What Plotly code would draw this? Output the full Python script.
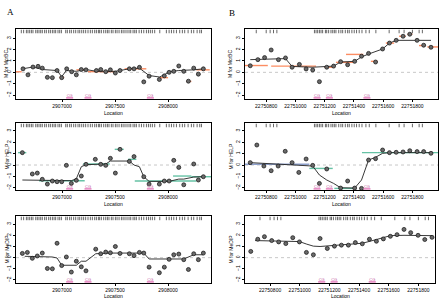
import plotly.graph_objects as go

# ---------------- data ----------------
# Column A (locations ~2.907e6)
A_x = [2906632, 2906679, 2906726, 2906774, 2906814, 2906862, 2906909, 2906953, 2906997, 2907044,
       2907091, 2907135, 2907182, 2907226, 2907324, 2907365, 2907412, 2907456, 2907503, 2907547,
       2907635, 2907679, 2907730, 2907771, 2907821, 2907918, 2907965, 2908010, 2908054, 2908101,
       2908148, 2908192, 2908242, 2908286, 2908333]
mcrbc_A = [0.31, -0.22, 0.47, 0.53, 0.37, -0.44, -0.47, 0.16, -0.47, 0.31,
           0.06, -0.22, 0.25, 0.22, 0.16, 0.25, 0.06, 0.22, -0.06, 0.16,
           0.31, 0.31, 0.44, -0.84, -0.34, -0.63, -0.31, 0.0, 0.09, 0.56,
           0.09, -0.78, 0.37, -0.16, 0.31]

helpA_x = [2906626, 2906720, 2906767, 2906814, 2906862, 2906909, 2906953, 2906997, 2907041, 2907088,
           2907135, 2907182, 2907226, 2907314, 2907365, 2907412, 2907456, 2907503, 2907547, 2907635,
           2907679, 2907771, 2907821, 2907918, 2907965, 2908010, 2908054, 2908101, 2908148, 2908242,
           2908286, 2908333]
help_A = [1.09, -0.79, -0.71, -1.26, -1.68, -1.41, -1.47, -1.47, -0.03, -1.62,
          -1.35, -0.97, 0.06, 0.50, 0.06, -0.03, 0.59, -0.71, 1.38, 0.32,
          0.74, -1.03, -1.68, -1.68, -1.41, -1.41, 0.41, -0.21, -1.74, 0.09,
          -1.32, -1.03]

medipA_x = [2906626, 2906673, 2906720, 2906767, 2906814, 2906862, 2906909, 2906953, 2906997, 2907041,
            2907088, 2907135, 2907182, 2907226, 2907318, 2907365, 2907412, 2907456, 2907503, 2907547,
            2907635, 2907679, 2907730, 2907771, 2907821, 2907918, 2907965, 2908010, 2908054, 2908101,
            2908148, 2908192, 2908242, 2908286, 2908333]
medip_A = [0.38, 0.47, -0.06, 0.15, 0.41, -0.97, -1.00, 1.29, -0.71, 0.06,
           -1.29, -0.32, -0.82, -1.18, 0.76, 0.35, 0.50, 0.44, 1.00, 0.38,
           0.35, 0.18, 0.47, 0.41, -0.85, -1.35, -0.85, -0.15, 0.26, 0.32,
           -0.18, -1.06, 0.35, -0.18, 0.41]

# smoothed fits, column A
mcrbcA_fit_x = [2906626, 2906726, 2906814, 2906953, 2906997, 2907041, 2907135, 2907226, 2907324, 2907503,
                2907547, 2907635, 2907730, 2907771, 2907821, 2907918, 2907965, 2908010, 2908101, 2908242, 2908333]
mcrbcA_fit_y = [0.31, 0.47, 0.25, 0.16, -0.38, 0.16, 0.09, 0.25, 0.09, 0.09,
                0.16, 0.31, 0.37, 0.06, -0.28, -0.41, -0.22, 0.06, 0.16, 0.22, 0.31]
helpA_fit_x = [2906626, 2907088, 2907135, 2907182, 2907226, 2907365, 2907412, 2907456, 2907635, 2907679,
               2907730, 2907771, 2907821, 2908010, 2908101, 2908148, 2908242, 2908333]
helpA_fit_y = [-1.32, -1.38, -1.21, -0.15, 0.03, 0.03, 0.09, 0.35, 0.35, 0.0,
               -0.15, -1.03, -1.44, -1.44, -1.24, -1.24, -1.06, -1.03]
medipA_fit_x = [2906648, 2906814, 2906909, 2906953, 2906997, 2907135, 2907182, 2907226, 2907318, 2907456,
                2907771, 2907821, 2908148, 2908242, 2908333]
medipA_fit_y = [0.12, 0.12, 0.06, -0.03, -0.68, -0.68, -0.32, -0.32, 0.35, 0.41,
                0.41, -0.12, -0.12, 0.26, 0.26]

# segment means, column A
mcrbcA_seg_x0 = [2906566, 2906975, 2907135, 2907245, 2907590, 2907920, 2908173, 2908267]
mcrbcA_seg_x1 = [2906620, 2907020, 2907245, 2907497, 2907795, 2908000, 2908220, 2908393]
mcrbcA_seg_y = [0.05, -0.45, 0.22, 0.06, 0.31, -0.47, -0.80, 0.22]
helpA_seg_x0 = [2906585, 2906783, 2907198, 2907497, 2907623, 2907686, 2908047, 2908220]
helpA_seg_x1 = [2906663, 2907214, 2907450, 2907582, 2907701, 2908267, 2908220, 2908405]
helpA_seg_y = [1.09, -1.38, 0.09, 1.38, 0.50, -1.41, -0.97, -1.03]

# Column B (locations ~22.75e6)
B_x = [22750691, 22750743, 22750789, 22750834, 22750884, 22750932, 22750977, 22751027, 22751073, 22751118,
       22751164, 22751214, 22751261, 22751309, 22751357, 22751405, 22751452, 22751500, 22751548, 22751596,
       22751643, 22751689, 22751736, 22751782, 22751832, 22751877, 22751927]
mcrbc_B = [0.58, 1.12, 1.30, 1.97, 1.12, 1.27, 0.45, 0.70, 0.30, 0.21,
           -0.82, 0.45, 0.55, 0.94, 0.67, 0.97, 1.42, 1.67, 0.91, 2.06,
           2.58, 2.82, 3.18, 3.36, 2.82, 2.39, 2.21]
helpB_x = [22750691, 22750736, 22750784, 22750834, 22750882, 22750930, 22750977, 22751023, 22751073, 22751118,
           22751164, 22751214, 22751309, 22751357, 22751405, 22751452, 22751500, 22751548, 22751596, 22751643,
           22751689, 22751736, 22751782, 22751832, 22751877, 22751927]
help_B = [0.21, 1.76, -0.09, -0.50, -0.09, 1.21, 0.21, -0.65, 0.53, -0.03,
          -1.62, -0.35, -2.03, -1.41, -2.03, -2.06, 0.44, 0.56, 1.32, 1.09,
          1.12, 1.15, 1.26, 1.18, 1.18, 1.03]
medipB_x = [22750670, 22750717, 22750762, 22750811, 22750858, 22750906, 22750953, 22750998, 22751045, 22751092,
            22751137, 22751186, 22751234, 22751281, 22751328, 22751375, 22751422, 22751470, 22751517, 22751564,
            22751611, 22751656, 22751703, 22751748, 22751798, 22751843, 22751892]
medip_B = [0.56, 1.65, 1.88, 1.53, 1.41, 1.26, 1.79, 1.41, 0.47, 0.26,
           1.71, 0.82, 1.03, 1.12, 1.12, 1.35, 1.24, 1.65, 1.47, 1.68,
           1.91, 2.06, 2.53, 2.24, 2.00, 1.62, 1.82]

mcrbcB_fit_x = [22750691, 22750932, 22750977, 22751118, 22751261, 22751309, 22751405, 22751452, 22751500,
                22751596, 22751643, 22751689, 22751927]
mcrbcB_fit_y = [1.12, 1.21, 0.52, 0.45, 0.55, 0.91, 0.97, 1.36, 1.61, 2.06, 2.58, 2.82, 2.82]
helpB_fit_x = [22750691, 22750834, 22750977, 22751118, 22751164, 22751214, 22751261, 22751309, 22751405,
               22751452, 22751500, 22751548, 22751596, 22751643, 22751927]
helpB_fit_y = [0.21, 0.12, 0.06, -0.09, -0.88, -1.32, -1.62, -2.00, -2.03, -1.32, 0.44, 0.68, 1.03, 1.09, 1.09]
medipB_fit_x = [22750699, 22750998, 22751047, 22751092, 22751137, 22751234, 22751328, 22751422, 22751517,
                22751611, 22751703, 22751892]
medipB_fit_y = [1.53, 1.44, 1.21, 1.03, 1.00, 1.09, 1.18, 1.29, 1.62, 1.97, 2.00, 1.97]

mcrbcB_seg_x0 = [22750655, 22750834, 22751198, 22751277, 22751346, 22751516, 22751618, 22751709, 22751766, 22751845, 22751902]
mcrbcB_seg_x1 = [22750811, 22751141, 22751266, 22751402, 22751464, 22751561, 22751675, 22751755, 22751800, 22751891, 22751975]
mcrbcB_seg_y = [0.60, 0.55, 0.45, 0.88, 1.58, 0.97, 2.58, 3.18, 3.36, 2.36, 2.24]
helpB_seg_x0 = [22751095, 22751266, 22751455]
helpB_seg_x1 = [22751255, 22751414, 22751975]
helpB_seg_y = [-0.30, -2.06, 1.09]
helpB_seg2_x0 = [22750655]
helpB_seg2_x1 = [22751095]
helpB_seg2_y = [0.07]

# probe positions (rug) and CpG sites
rug_A = [2906616, 2906638, 2906664, 2906679, 2906695, 2906711, 2906726, 2906752, 2906767, 2906783,
         2906799, 2906814, 2906836, 2906852, 2906874, 2906890, 2906909, 2906925, 2906940, 2906962,
         2906978, 2906994, 2907035, 2907050, 2907072, 2907088, 2907110, 2907129, 2907151, 2907167,
         2907186, 2907204, 2907223, 2907245, 2907267, 2907286, 2907308, 2907324, 2907343, 2907355,
         2907371, 2907393, 2907412, 2907428, 2907443, 2907465, 2907481, 2907503, 2907519, 2907538,
         2907560, 2907576, 2907594, 2907613, 2907632, 2907648, 2907670, 2907686, 2907701, 2907727,
         2907749, 2907771, 2907796, 2907815, 2907833, 2907852, 2907874, 2907922, 2907984, 2908010,
         2908032, 2908054, 2908079, 2908110, 2908135, 2908157, 2908189, 2908220, 2908242, 2908274,
         2908299, 2908315]
rug_B = [22750732, 22750800, 22750827, 22750850, 22750873, 22751130, 22751141, 22751152, 22751164, 22751175,
         22751186, 22751205, 22751214, 22751227, 22751243, 22751255, 22751266, 22751277, 22751296, 22751311,
         22751323, 22751341, 22751357, 22751368, 22751386, 22751402, 22751418, 22751436, 22751455, 22751482,
         22751505, 22751550, 22751641, 22751709, 22751743, 22751800, 22751846, 22751868]
cg_A = [2907072, 2907245, 2907833]
cg_B = [22751148, 22751232, 22751489]

# ---------------- layout helpers ----------------
W, H = 440, 299
ORANGE = "#fc8d62"
GREEN = "#66c2a5"
LAV = "#8da0cb"
PINK = "#e78ac3"

fig = go.Figure()

def px_x(p):
    return p / W

def px_y(p):
    return 1 - p / H

TV_A = [2907000, 2907500, 2908000]
TV_B = [22750800, 22751000, 22751200, 22751400, 22751600, 22751800]

panels = [
    dict(i=1, dx=(16, 211), dy=(29, 99), yr=(-2.35, 3.82), xr=(2906566, 2908405),
         px=A_x, py=mcrbc_A, fx=mcrbcA_fit_x, fy=mcrbcA_fit_y,
         segs=[(mcrbcA_seg_x0, mcrbcA_seg_x1, mcrbcA_seg_y, ORANGE)], rug=rug_A, cg=cg_A,
         yt="M for McrBC", tv=TV_A, ytx=6, cgw=33, loc=9.5),
    dict(i=2, dx=(245, 438), dy=(29, 99), yr=(-2.35, 3.82), xr=(22750655, 22751975),
         px=B_x, py=mcrbc_B, fx=mcrbcB_fit_x, fy=mcrbcB_fit_y,
         segs=[(mcrbcB_seg_x0, mcrbcB_seg_x1, mcrbcB_seg_y, ORANGE)], rug=rug_B, cg=cg_B,
         yt="M for McrBC", tv=TV_B, ytx=230, cgw=24, loc=9.5),
    dict(i=3, dx=(16, 211), dy=(123, 190), yr=(-2.2, 3.7), xr=(2906566, 2908405),
         px=helpA_x, py=help_A, fx=helpA_fit_x, fy=helpA_fit_y,
         segs=[(helpA_seg_x0, helpA_seg_x1, helpA_seg_y, GREEN)], rug=rug_A, cg=cg_A,
         yt="M for HELP", tv=TV_A, ytx=6, cgw=33, loc=9.5),
    dict(i=4, dx=(245, 438), dy=(123, 190), yr=(-2.2, 3.7), xr=(22750655, 22751975),
         px=helpB_x, py=help_B, fx=helpB_fit_x, fy=helpB_fit_y,
         segs=[(helpB_seg2_x0, helpB_seg2_x1, helpB_seg2_y, LAV),
               (helpB_seg_x0, helpB_seg_x1, helpB_seg_y, GREEN)], rug=rug_B, cg=cg_B,
         yt="M for HELP", tv=TV_B, ytx=230, cgw=24, loc=9.5),
    dict(i=5, dx=(16, 211), dy=(216, 283), yr=(-2.27, 3.73), xr=(2906566, 2908405),
         px=medipA_x, py=medip_A, fx=medipA_fit_x, fy=medipA_fit_y,
         segs=[], rug=rug_A, cg=cg_A,
         yt="M for MeDIP", tv=TV_A, ytx=6, cgw=33, loc=8.5),
    dict(i=6, dx=(245, 435), dy=(216, 283), yr=(-2.27, 3.73), xr=(22750631, 22751912),
         px=medipB_x, py=medip_B, fx=medipB_fit_x, fy=medipB_fit_y,
         segs=[], rug=rug_B, cg=cg_B,
         yt="M for MeDIP", tv=TV_B, ytx=230, cgw=24, loc=8.5),
]

FONT = "Liberation Sans, Arial, sans-serif"
annotations = []
shapes = []

for p in panels:
    i = p["i"]
    xa = "x" if i == 1 else f"x{i}"
    ya = "y" if i == 1 else f"y{i}"
    xl = "xaxis" if i == 1 else f"xaxis{i}"
    yl = "yaxis" if i == 1 else f"yaxis{i}"

    shapes.append(dict(type="line", xref=f"{xa} domain", yref=ya, x0=0, x1=1, y0=0, y1=0,
                       line=dict(color="#b0b0b0", width=0.7, dash="dot"), layer="below"))

    for (x0s, x1s, ys, col) in p["segs"]:
        sx, sy = [], []
        for a, b, v in zip(x0s, x1s, ys):
            sx += [a, b, None]
            sy += [v, v, None]
        fig.add_trace(go.Scatter(x=sx, y=sy, mode="lines", xaxis=xa, yaxis=ya,
                                 line=dict(color=col, width=1.4), showlegend=False, hoverinfo="skip"))

    fig.add_trace(go.Scatter(x=p["fx"], y=p["fy"], mode="lines", xaxis=xa, yaxis=ya,
                             line=dict(color="#222222", width=0.9), showlegend=False))
    fig.add_trace(go.Scatter(x=p["px"], y=p["py"], mode="markers", xaxis=xa, yaxis=ya,
                             marker=dict(size=4, color="#6a6a6a", line=dict(color="#111111", width=0.7)),
                             showlegend=False))
    top = p["yr"][1]
    fig.add_trace(go.Scatter(x=p["rug"], y=[top - 0.22] * len(p["rug"]), mode="markers", xaxis=xa, yaxis=ya,
                             marker=dict(symbol="line-ns", size=2.5, line=dict(color="black", width=0.6)),
                             showlegend=False, hoverinfo="skip"))
    bx, by = [], []
    for c in p["cg"]:
        bx += [c - p["cgw"], c + p["cgw"], None]
        by += [p["yr"][0] + 0.1, p["yr"][0] + 0.1, None]
    fig.add_trace(go.Scatter(x=bx, y=by, mode="lines", xaxis=xa, yaxis=ya,
                             line=dict(color=PINK, width=1.6), showlegend=False, hoverinfo="skip"))
    fig.add_trace(go.Scatter(x=p["cg"], y=[p["yr"][0] + 0.3] * len(p["cg"]), mode="text", text=["CG"] * len(p["cg"]),
                             textfont=dict(size=4, color="#c2569b", family=FONT), xaxis=xa, yaxis=ya,
                             showlegend=False, hoverinfo="skip"))

    fig.layout[xl] = dict(domain=[px_x(p["dx"][0]), px_x(p["dx"][1])], range=list(p["xr"]), anchor=ya,
                          automargin=False,
                          showgrid=False, zeroline=False, showline=True, linecolor="black", linewidth=0.8,
                          mirror=True, ticks="outside", ticklen=2, tickwidth=0.6, tickcolor="black",
                          tickvals=p["tv"], tickformat="d",
                          tickfont=dict(size=5, family=FONT, color="black"))
    fig.layout[yl] = dict(domain=[px_y(p["dy"][1]), px_y(p["dy"][0])], range=list(p["yr"]), anchor=xa,
                          automargin=False,
                          showgrid=False, zeroline=False, showline=True, linecolor="black", linewidth=0.8,
                          mirror=True, ticks="outside", ticklen=2, tickwidth=0.6, tickcolor="black",
                          tickvals=[-2, -1, 0, 1, 2, 3], tickangle=-90,
                          tickfont=dict(size=5, family=FONT, color="black"))

    annotations.append(dict(text=p["yt"], x=px_x(p["ytx"]), y=px_y((p["dy"][0] + p["dy"][1]) / 2),
                            xref="paper", yref="paper", showarrow=False, textangle=-90,
                            font=dict(size=5, family=FONT, color="black"), xanchor="center", yanchor="middle"))
    annotations.append(dict(text="Location", x=px_x((p["dx"][0] + p["dx"][1]) / 2), y=px_y(p["dy"][1] + p["loc"]),
                            xref="paper", yref="paper", showarrow=False, borderpad=0,
                            font=dict(size=5, family=FONT, color="black"), xanchor="center", yanchor="top"))

annotations.append(dict(text="A", x=px_x(4.5), y=px_y(5.5), xref="paper", yref="paper", showarrow=False,
                        font=dict(size=9, family="Liberation Serif, Times New Roman, serif", color="black")))
annotations.append(dict(text="B", x=px_x(232), y=px_y(6.5), xref="paper", yref="paper", showarrow=False,
                        font=dict(size=9, family="Liberation Serif, Times New Roman, serif", color="black")))

fig.update_layout(width=W, height=H, margin=dict(l=0, r=0, t=0, b=0, pad=0, autoexpand=False),
                  paper_bgcolor="white", plot_bgcolor="white",
                  annotations=annotations, shapes=shapes, showlegend=False)

fig.write_html("out.html", config={"displayModeBar": False},
               post_script="document.body.style.margin='0';document.body.style.overflow='hidden';")
